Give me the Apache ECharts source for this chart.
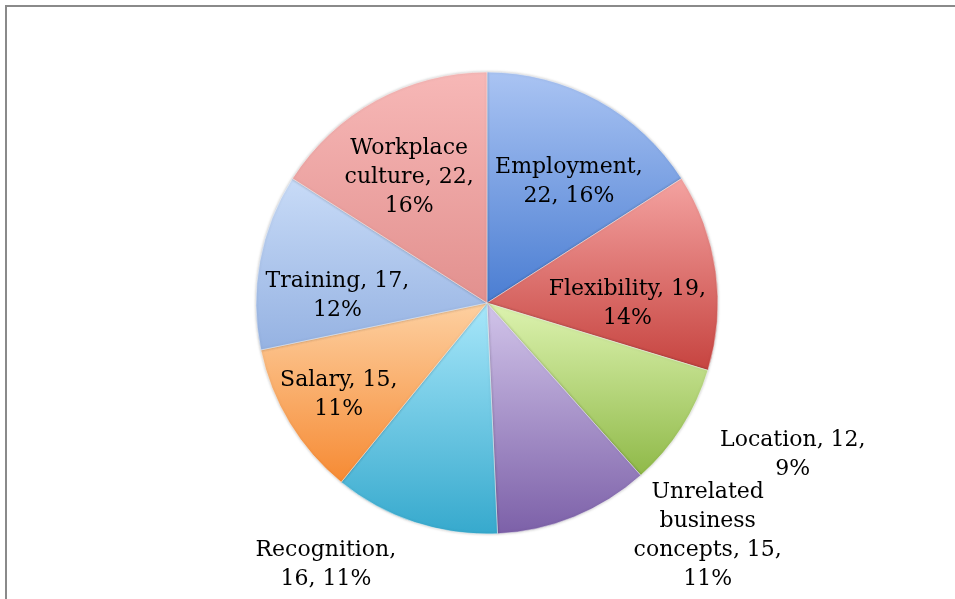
<!DOCTYPE html>
<html lang="en">
<head>
<meta charset="UTF-8">
<title>Pie</title>
<script src="https://cdn.jsdelivr.net/npm/echarts@6/dist/echarts.min.js"></script>
<style>
  html, body { margin: 0; padding: 0; background: #fff; }
  #main { width: 955px; height: 599px; }
</style>
</head>
<body>
<div id="main"></div>
<script>
  // data (clockwise from 12 o'clock)
  var names = ['Employment', 'Flexibility', 'Location', 'Unrelated business concepts',
               'Recognition', 'Salary', 'Training', 'Workplace culture'];
  var values = [22, 19, 12, 15, 16, 15, 17, 22];

  // look: gradient top / bottom per slice
  var topColors = ['#aac4f3', '#f4a3a1', '#ddf3b0', '#d2c5ea', '#a8e7fa', '#fdd0a1', '#c8dbf7', '#f7b8b7'];
  var bottomColors = ['#4a7dd2', '#c6433f', '#8fb948', '#7c60a8', '#36a9cd', '#f68a33', '#95b2e2', '#e2908e'];
  // how each label breaks: 'name' = break after name, 'value' = break after value
  var breakAfter = ['name', 'value', 'value', 'value', 'name', 'value', 'value', 'value'];
  var labelOffsets = [[25, -17], [23, 17], [206, 88], [176, 123], [-124, 149], [-47, 30], [-33, 14], [-21, -22]];

  var chart = echarts.init(document.getElementById('main'));

  var data = names.map(function (n, i) {
    return {
      name: n,
      value: values[i],
      itemStyle: {
        color: {
          type: 'linear', x: 0, y: 0, x2: 0, y2: 1,
          colorStops: [{offset: 0, color: topColors[i]}, {offset: 1, color: bottomColors[i]}]
        }
      },
      label: { offset: labelOffsets[i] }
    };
  });

  chart.setOption({
    animation: false,
    graphic: [{
      type: 'rect',
      shape: { x: 6, y: 6, width: 1200, height: 800 },
      style: { fill: 'none', stroke: '#8a8a8a', lineWidth: 2 }
    }],
    series: [{
      type: 'pie',
      center: [487, 303],
      radius: 231,
      startAngle: 90,
      clockwise: true,
      percentPrecision: 0,
      avoidLabelOverlap: false,
      data: data,
      itemStyle: {
        borderColor: 'rgba(255,255,255,0.45)',
        borderWidth: 1,
        shadowBlur: 3,
        shadowColor: 'rgba(0,0,0,0.25)'
      },
      label: {
        show: true,
        position: 'inside',
        color: '#000',
        fontFamily: 'DejaVu Serif',
        fontSize: 22,
        lineHeight: 29,
        align: 'center',
        formatter: function (p) {
          var nm = p.name;
          if (breakAfter[p.dataIndex] === 'name') {
            return nm + ',\n' + p.value + ', ' + p.percent + '%';
          }
          return nm.split(' ').join('\n') + ', ' + p.value + ',\n' + p.percent + '%';
        }
      },
      labelLayout: { hideOverlap: false },
      labelLine: { show: false },
      emphasis: { disabled: true }
    }]
  });
</script>
</body>
</html>
